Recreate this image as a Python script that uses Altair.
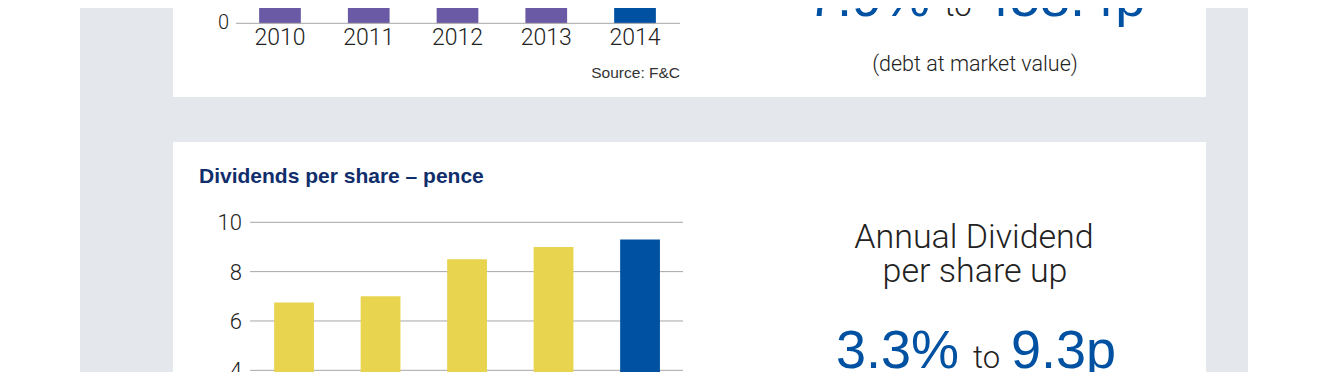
import altair as alt
import pandas as pd

# ---- data -------------------------------------------------------------
years = ["2010", "2011", "2012", "2013", "2014"]
nav_pence = [361.0, 344.0, 363.0, 424.9, 458.4]        # top panel (bar tops cut off)
dividends_pence = [6.75, 7.0, 8.5, 9.0, 9.3]           # bottom panel
div_ticks = [0, 2, 4, 6, 8, 10]
nav_ticks = [0]
div_title = "Dividends per share – pence"
source_note = "Source: F&C"
nav_note = "(debt at market value)"
nav_pct, nav_val = "7.9%", "458.4p"
div_line1, div_line2 = "Annual Dividend", "per share up"
div_pct, div_val = "3.3%", "9.3p"

# ---- styles -----------------------------------------------------------
W, H = 1327, 364
GREY = "#E4E7EB"
PURPLE = "#6A59A4"
BLUE = "#0051A1"
YELLOW = "#E8D44E"
NAVY = "#102E6B"
INK = "#222222"
GRID = "#A6A6A6"
LIGHT = "Roboto"
SANS = "Liberation Sans"

one = pd.DataFrame({"k": [0]})


def box(x1, x2, y1, y2, color):
    return alt.Chart(one).mark_rect(color=color).encode(
        x=alt.value(x1), x2=alt.value(x2), y=alt.value(y1), y2=alt.value(y2)
    )


def label(text, x, y, size, color=INK, align="center", weight=300, font=LIGHT):
    return alt.Chart(one).mark_text(
        text=text, align=align, baseline="alphabetic", fontSize=size,
        font=font, fontWeight=weight, color=color
    ).encode(x=alt.value(x), y=alt.value(y))


nav_df = pd.DataFrame({"year": years, "value": nav_pence})
div_df = pd.DataFrame({"year": years, "value": dividends_pence})
nav_tick_df = pd.DataFrame({"v": nav_ticks})
div_tick_df = pd.DataFrame({"v": div_ticks})
year_df = pd.DataFrame({"year": years})

X1 = alt.Scale(domain=years, range=[227.6, 671.4], paddingInner=0.53, paddingOuter=0.265)
Y1 = alt.Scale(domain=[0, 500], range=[15.3, -400], nice=False, zero=False)
X2 = alt.Scale(domain=years, range=[242.8, 675.3], paddingInner=0.54, paddingOuter=0.27)
Y2 = alt.Scale(domain=[0, 10], range=[461, 214.3], nice=False, zero=False)

last = alt.datum.year == years[-1]

# ---- top panel --------------------------------------------------------
top_bars = alt.Chart(nav_df).mark_bar().encode(
    x=alt.X("year:N", scale=X1, axis=None),
    y=alt.Y("value:Q", scale=Y1, axis=None),
    color=alt.condition(last, alt.value(BLUE), alt.value(PURPLE)),
)
top_base = alt.Chart(nav_tick_df).mark_rule(color=GRID, strokeWidth=1).encode(
    x=alt.value(228), x2=alt.value(672),
    y=alt.Y("v:Q", scale=Y1, axis=None),
)
top_ytext = alt.Chart(nav_tick_df).mark_text(
    align="right", baseline="middle", fontSize=20, font=LIGHT, fontWeight=300, color=INK
).encode(
    x=alt.value(221),
    y=alt.Y("v:Q", scale=Y1, axis=None),
    text=alt.Text("v:Q"),
)
top_xtext = alt.Chart(year_df).mark_text(
    align="center", baseline="alphabetic", fontSize=23, font=LIGHT, fontWeight=300, color=INK
).encode(
    x=alt.X("year:N", scale=X1, axis=None),
    y=alt.value(37),
    text="year:N",
)

# ---- bottom panel -----------------------------------------------------
grid = alt.Chart(div_tick_df).mark_rule(color=GRID, strokeWidth=1).encode(
    x=alt.value(242), x2=alt.value(675),
    y=alt.Y("v:Q", scale=Y2, axis=None),
)
grid_text = alt.Chart(div_tick_df).mark_text(
    align="right", baseline="middle", dy=1, fontSize=22, font=LIGHT, fontWeight=300, color=INK
).encode(
    x=alt.value(234),
    y=alt.Y("v:Q", scale=Y2, axis=None),
    text=alt.Text("v:Q"),
)
div_bars = alt.Chart(div_df).mark_bar().encode(
    x=alt.X("year:N", scale=X2, axis=None),
    y=alt.Y("value:Q", scale=Y2, axis=None),
    color=alt.condition(last, alt.value(BLUE), alt.value(YELLOW)),
)

layers = [
    box(72, 1240, 0, H, GREY),
    box(165, 1198, 0, 89, "white"),
    box(165, 1198, 134, H, "white"),
    top_bars, top_base, top_ytext, top_xtext,
    label(source_note, 672, 70, 15.5, align="right", weight=400, font=SANS, color="#333333"),
    label(nav_pct, 922, 8, 54, color=BLUE, align="right", weight=400, font=SANS),
    label("to", 950, 8, 31),
    label(nav_val, 972, 8, 54, color=BLUE, align="left", weight=400, font=SANS),
    label(nav_note, 967, 63, 21.5),
    label(div_title, 191, 174.7, 21, color=NAVY, align="left", weight="bold", font=SANS),
    grid, grid_text, div_bars,
    label(div_line1, 966, 239.7, 34),
    label(div_line2, 967, 273.7, 34),
    label(div_pct, 951, 360.3, 54, color=BLUE, align="right", weight=400, font=SANS),
    label("to", 978.5, 360.3, 31),
    label(div_val, 1003, 360.3, 54, color=BLUE, align="left", weight=400, font=SANS),
]

chart = alt.layer(*layers).resolve_scale(
    x="independent", y="independent"
).properties(
    width=W, height=H, padding=0, background="white",
    autosize=alt.AutoSizeParams(type="none"),
).configure_view(stroke=None)

chart.save("out.html", embed_options={"renderer": "svg", "actions": False})
